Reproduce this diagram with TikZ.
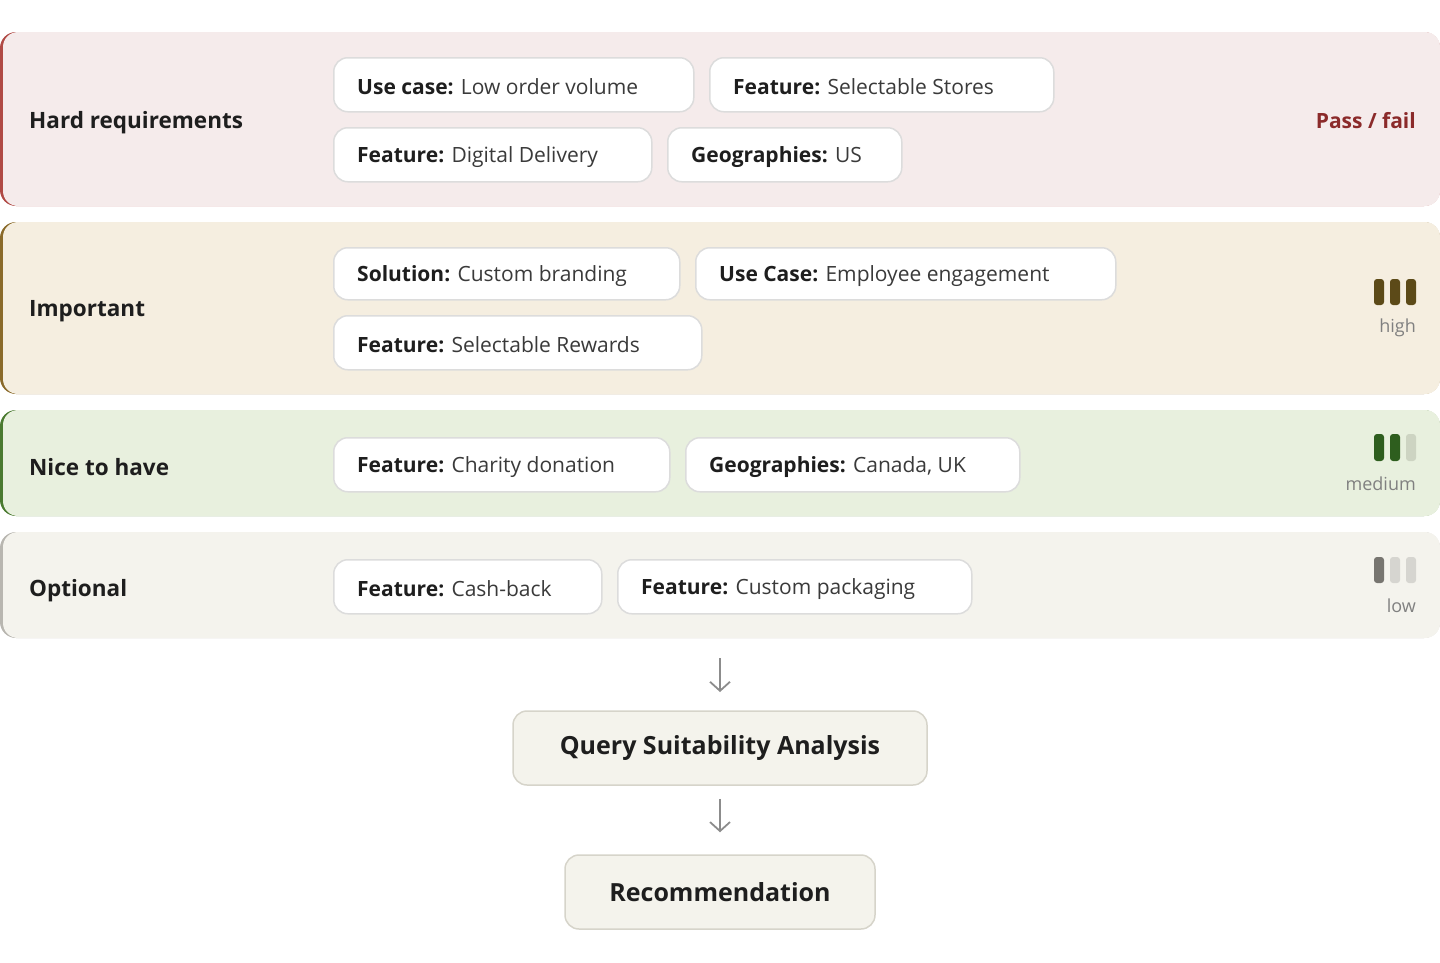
\documentclass[tikz,border=0pt]{standalone}
\usepackage{fontspec}
\setmainfont{Open Sans}
\usetikzlibrary{arrows.meta}
\definecolor{txt}{HTML}{1E1E1E}
\definecolor{chipt}{HTML}{3A3A3A}
\definecolor{chipb}{HTML}{DCDCDC}
\definecolor{flowf}{HTML}{F4F3EC}
\definecolor{flowb}{HTML}{D6D4CA}
\tikzset{
 chip/.style={draw=chipb,line width=1.5pt,fill=white,rounded corners=14pt,anchor=north west,minimum height=54pt,inner xsep=0pt},
 ctext/.style={anchor=west,inner xsep=0pt,text=chipt,font=\fontsize{21}{24}\selectfont},
 blabel/.style={anchor=west,inner xsep=0pt,text=txt,font=\fontsize{22.5}{26}\selectfont\bfseries},
 small/.style={anchor=east,inner xsep=0pt,text=black!50,font=\fontsize{18}{22}\selectfont},
 flowbox/.style={draw=flowb,line width=1.5pt,fill=flowf,rounded corners=14pt,minimum height=74pt,text=txt,font=\fontsize{25}{30}\selectfont\bfseries},
 arr/.style={-{Straight Barb[length=9pt,width=20pt]},draw=black!45,line width=1.8pt},
 bar/.style={rounded corners=3pt}
}
\begin{document}
\begin{tikzpicture}[x=1pt,y=-1pt]
\useasboundingbox (0,0) rectangle (1440,962);
% bands
\fill[fill={rgb,255:red,176;green,74;blue,69},rounded corners=16pt] (0,32) rectangle (1440,206);
\fill[fill={rgb,255:red,245;green,235;blue,235},rounded corners=15pt] (3,32) rectangle (1440,206);
\fill[fill={rgb,255:red,138;green,106;blue,42},rounded corners=16pt] (0,222) rectangle (1440,394);
\fill[fill={rgb,255:red,245;green,238;blue,224},rounded corners=15pt] (3,222) rectangle (1440,394);
\fill[fill={rgb,255:red,74;green,122;blue,48},rounded corners=16pt] (0,410) rectangle (1440,516);
\fill[fill={rgb,255:red,232;green,240;blue,222},rounded corners=15pt] (3,410) rectangle (1440,516);
\fill[fill={rgb,255:red,184;green,182;blue,176},rounded corners=16pt] (0,532) rectangle (1440,638);
\fill[fill={rgb,255:red,244;green,243;blue,237},rounded corners=15pt] (3,532) rectangle (1440,638);
% labels
\node[blabel] (l1) at (29,123) {Hard requirements};
\node[blabel] (l2) at (29,311) {Important};
\node[blabel] (l3) at (29,467) {Nice to have};
\node[blabel] (l4) at (29,591) {Optional};
% chips
\node[chip,minimum width=360pt] (c1) at (333,57) {};
\node[ctext] (t1) at ([xshift=24pt,yshift=-2pt]c1.west) {\textbf{\color{txt}Use case:} Low order volume};
\node[chip,minimum width=344pt] (c2) at (709,57) {};
\node[ctext] (t2) at ([xshift=24pt,yshift=-2pt]c2.west) {\textbf{\color{txt}Feature:} Selectable Stores};
\node[chip,minimum width=318pt] (c3) at (333,127) {};
\node[ctext] (t3) at ([xshift=24pt,yshift=-2pt]c3.west) {\textbf{\color{txt}Feature:} Digital Delivery};
\node[chip,minimum width=234pt] (c4) at (667,127) {};
\node[ctext] (t4) at ([xshift=24pt,yshift=-2pt]c4.west) {\textbf{\color{txt}Geographies:} US};
\node[chip,minimum width=346pt,minimum height=52pt] (c5) at (333,247) {};
\node[ctext] (t5) at ([xshift=24pt,yshift=-2pt]c5.west) {\textbf{\color{txt}Solution:} Custom branding};
\node[chip,minimum width=420pt,minimum height=52pt] (c6) at (695,247) {};
\node[ctext] (t6) at ([xshift=24pt,yshift=-2pt]c6.west) {\textbf{\color{txt}Use Case:} Employee engagement};
\node[chip,minimum width=368pt] (c7) at (333,315) {};
\node[ctext] (t7) at ([xshift=24pt,yshift=-2pt]c7.west) {\textbf{\color{txt}Feature:} Selectable Rewards};
\node[chip,minimum width=336pt] (c8) at (333,437) {};
\node[ctext] (t8) at ([xshift=24pt,yshift=-2pt]c8.west) {\textbf{\color{txt}Feature:} Charity donation};
\node[chip,minimum width=334pt] (c9) at (685,437) {};
\node[ctext] (t9) at ([xshift=24pt,yshift=-2pt]c9.west) {\textbf{\color{txt}Geographies:} Canada, UK};
\node[chip,minimum width=268pt] (c10) at (333,559) {};
\node[ctext] (t10) at ([xshift=24pt,yshift=-2pt]c10.west) {\textbf{\color{txt}Feature:} Cash-back};
\node[chip,minimum width=354pt] (c11) at (617,559) {};
\node[ctext] (t11) at ([xshift=24pt,yshift=-2pt]c11.west) {\textbf{\color{txt}Feature:} Custom packaging};
% right side
\node[anchor=east,inner xsep=0pt,text={rgb,255:red,139;green,42;blue,42},font=\fontsize{21}{24}\selectfont\bfseries] (pf) at (1416,121) {Pass / fail};
\definecolor{hb}{HTML}{5C4A18}\definecolor{mb}{HTML}{2E5E1E}\definecolor{ml}{HTML}{CDD4C2}
\definecolor{lb}{HTML}{777570}\definecolor{ll}{HTML}{D6D5D0}
\foreach \x/\c in {1374/hb,1390/hb,1406/hb}{\fill[\c,bar] (\x,279) rectangle ++(10,26);}
\foreach \x/\c in {1374/mb,1390/mb,1406/ml}{\fill[\c,bar] (\x,434) rectangle ++(10,27);}
\foreach \x/\c in {1374/lb,1390/ll,1406/ll}{\fill[\c,bar] (\x,557) rectangle ++(10,26);}
\node[small] (h) at (1416,328) {high};
\node[small] (m) at (1416,484) {medium};
\node[small] (lo) at (1416,606) {low};
% flow
\coordinate (a0) at (720,658);
\node[flowbox,minimum width=414pt] (q) at (720,748) {Query Suitability Analysis};
\node[flowbox,minimum width=310pt] (r) at (720,892) {Recommendation};
\draw[arr] (a0) -- ++(0,34);
\draw[arr] ([yshift=-13pt]q.south) -- ([yshift=22pt]r.north);
\end{tikzpicture}
\end{document}
